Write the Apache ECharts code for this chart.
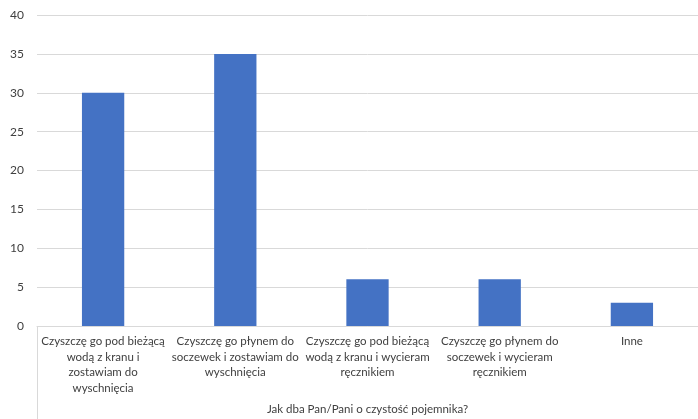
<!DOCTYPE html>
<html><head><meta charset="utf-8">
<script src="https://cdn.jsdelivr.net/npm/echarts@6/dist/echarts.min.js"></script>
<style>html,body{margin:0;padding:0;background:#fff;overflow:hidden}#c{width:698px;height:419px}</style>
</head><body><div id="c"></div>
<script>
const categories = [
  "Czyszczę go pod bieżącą\nwodą z kranu i\nzostawiam do\nwyschnięcia",
  "Czyszczę go płynem do\nsoczewek i zostawiam do\nwyschnięcia",
  "Czyszczę go pod bieżącą\nwodą z kranu i wycieram\nręcznikiem",
  "Czyszczę go płynem do\nsoczewek i wycieram\nręcznikiem",
  "Inne"
];
const values = [30, 35, 6, 6, 3];
const axisTitle = "Jak dba Pan/Pani o czystość pojemnika?";
const yMin = 0, yMax = 40, yStep = 5;

const chart = echarts.init(document.getElementById('c'), null, {renderer: 'canvas'});
const font = 'Lato';
chart.setOption({
  animation: false,
  grid: {left: 37, right: 0, top: 15, bottom: 93, containLabel: false, outerBoundsMode: 'none'},
  xAxis: {
    type: 'category',
    data: categories,
    name: axisTitle,
    nameLocation: 'middle',
    nameGap: 77,
    nameTextStyle: {color: '#404040', fontSize: 11.5, fontFamily: font},
    axisLine: {lineStyle: {color: '#d9d9d9'}},
    axisTick: {show: false},
    axisLabel: {color: '#404040', fontSize: 11.5, fontFamily: font, lineHeight: 15.5, margin: 8, interval: 0}
  },
  yAxis: {
    type: 'value',
    min: yMin, max: yMax, interval: yStep,
    axisLine: {show: false},
    axisTick: {show: false},
    splitLine: {lineStyle: {color: '#d9d9d9'}},
    axisLabel: {color: '#404040', fontSize: 12, fontFamily: font, margin: 13}
  },
  series: [{
    type: 'bar',
    data: values,
    barWidth: '32%',
    itemStyle: {color: '#4472C4'}
  }],
  graphic: [{
    type: 'line',
    shape: {x1: 37.5, y1: 326, x2: 37.5, y2: 419},
    style: {stroke: '#d9d9d9', lineWidth: 1}
  }]
});
</script></body></html>
